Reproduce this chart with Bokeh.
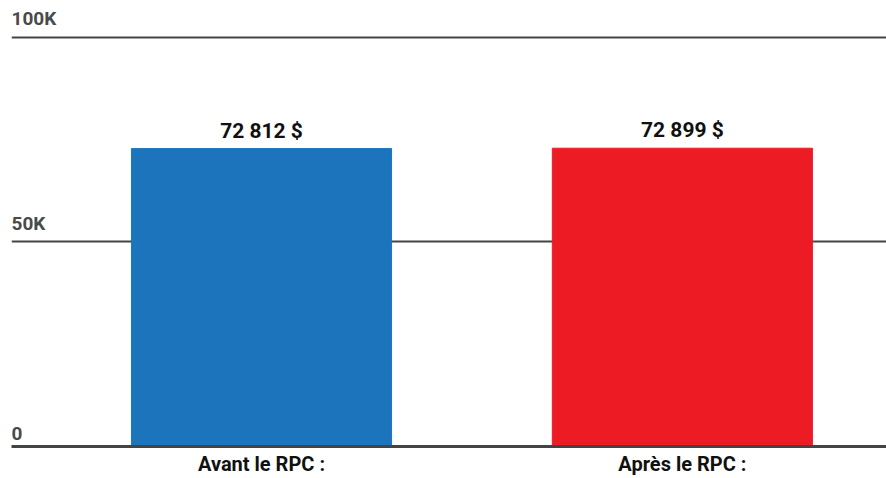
from bokeh.plotting import figure
from bokeh.models import Range1d, FixedTicker, ColumnDataSource
from bokeh.core.properties import value
from bokeh.embed import file_html
from bokeh.resources import INLINE

categories = ["Avant le RPC :", "Après le RPC :"]
values = [72812, 72899]
value_labels = ["72 812 $", "72 899 $"]
colors = ["#1C75BC", "#ED1C24"]
tick_values = [0, 50000, 100000]
tick_labels = ["0", "50K", "100K"]

positions = list(range(len(categories)))
x_start, x_end = -0.594, 1.485

p = figure(width=886, height=478, output_backend="svg", toolbar_location=None,
           x_range=Range1d(x_start, x_end), y_range=Range1d(0, 109000),
           min_border_left=11, min_border_right=0, min_border_top=0, min_border_bottom=29)
p.outline_line_color = None
p.background_fill_color = "white"

src = ColumnDataSource(dict(x=positions, top=values, color=colors, label=value_labels))
p.vbar(x="x", top="top", width=0.618, bottom=0, color="color", source=src)
p.text(x="x", y="top", text="label", source=src, text_align="center",
       text_baseline="bottom", y_offset=-6, text_font=value("Roboto"),
       text_font_style="bold", text_font_size="21px", text_color="#111111")

p.text(x=[x_start] * len(tick_values), y=tick_values, text=tick_labels,
       text_align="left", text_baseline="bottom", y_offset=-7,
       text_font=value("Roboto"), text_font_style="bold", text_font_size="19px",
       text_color="#4a4a4a")

p.yaxis.visible = False
p.ygrid.ticker = FixedTicker(ticks=tick_values)
p.ygrid.grid_line_color = "#444444"
p.ygrid.grid_line_width = 2
p.xgrid.visible = False

ax = p.xaxis[0]
ax.ticker = FixedTicker(ticks=positions)
ax.major_label_overrides = {i: c for i, c in zip(positions, categories)}
ax.major_tick_line_color = None
ax.minor_tick_line_color = None
ax.major_tick_out = 0
ax.major_tick_in = 0
ax.minor_tick_out = 0
ax.axis_line_color = "#444444"
ax.axis_line_width = 3
ax.major_label_standoff = 5
ax.major_label_text_font = "Roboto"
ax.major_label_text_font_style = "bold"
ax.major_label_text_font_size = "20px"
ax.major_label_text_color = "#111111"

open("out.html", "w").write(file_html(p, INLINE))
